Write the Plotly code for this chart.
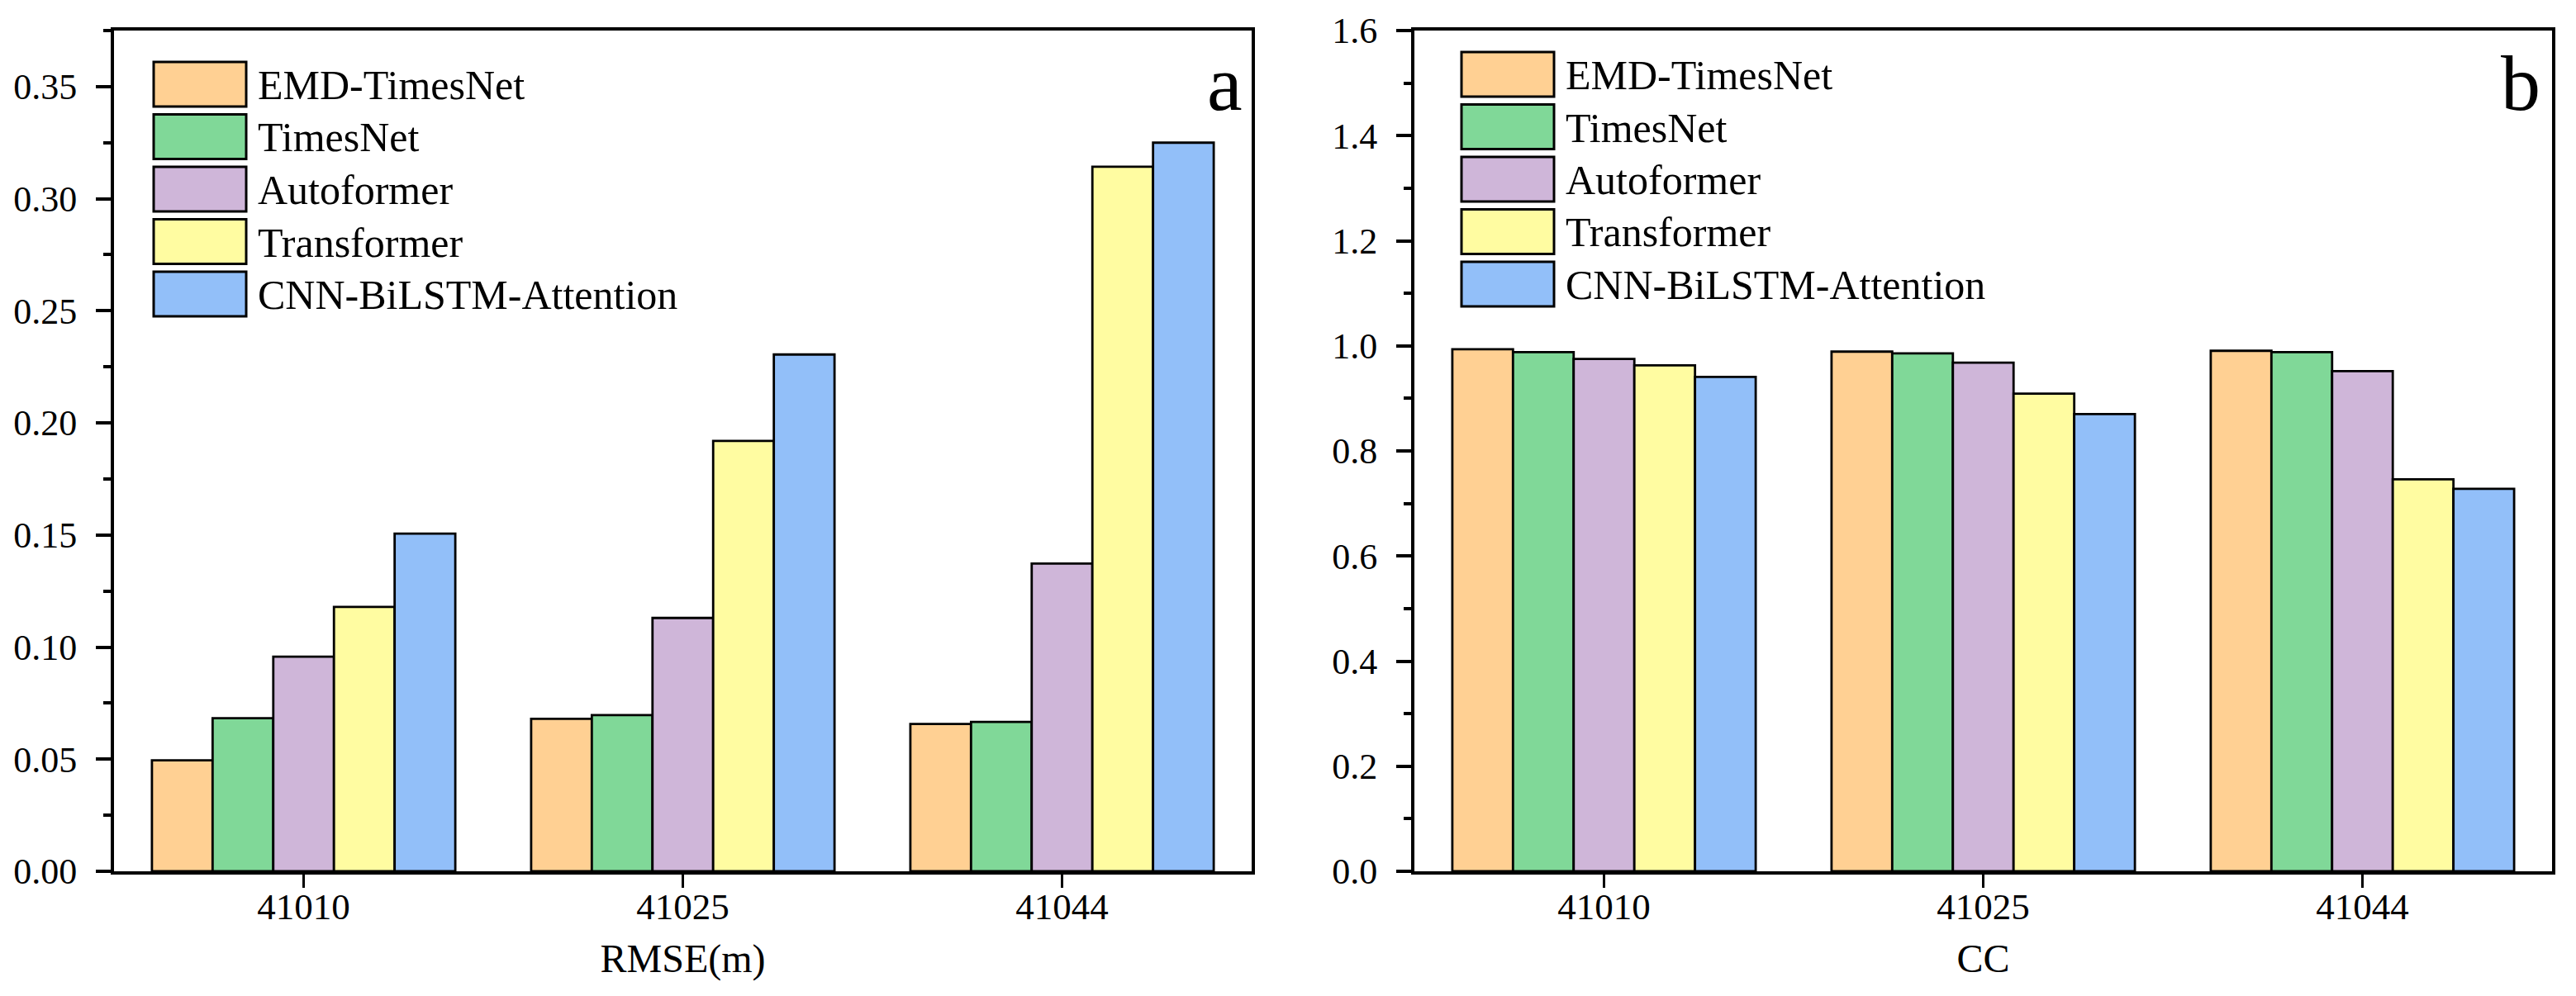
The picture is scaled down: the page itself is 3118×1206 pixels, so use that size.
import plotly.graph_objects as go

# page body has a default 8px margin; the figure is sized to fit inside the window
OFF = 8
W, H = 3118 - 2 * OFF, 1206 - 2 * OFF

stations = ["41010", "41025", "41044"]
models = ["EMD-TimesNet", "TimesNet", "Autoformer", "Transformer", "CNN-BiLSTM-Attention"]
colors = ["#FFD093", "#80D898", "#CFB6D9", "#FFFCA1", "#92BFF9"]

rmse_emd_timesnet = [0.0495, 0.0680, 0.0657]
rmse_timesnet = [0.0683, 0.0697, 0.0666]
rmse_autoformer = [0.0957, 0.1130, 0.1373]
rmse_transformer = [0.1179, 0.1920, 0.3143]
rmse_cnn_bilstm_att = [0.1506, 0.2305, 0.3250]

cc_emd_timesnet = [0.9934, 0.9890, 0.9906]
cc_timesnet = [0.9880, 0.9856, 0.9880]
cc_autoformer = [0.9750, 0.9680, 0.9520]
cc_transformer = [0.9630, 0.9090, 0.7460]
cc_cnn_bilstm_att = [0.9410, 0.8700, 0.7280]

rmse_series = [rmse_emd_timesnet, rmse_timesnet, rmse_autoformer, rmse_transformer, rmse_cnn_bilstm_att]
cc_series = [cc_emd_timesnet, cc_timesnet, cc_autoformer, cc_transformer, cc_cnn_bilstm_att]

FONT = "Liberation Serif"


def px(x):
    return (x - OFF) / W


def py(y):
    return 1 - (y - OFF) / H


fig = go.Figure()
for name, col, vals in zip(models, colors, rmse_series):
    fig.add_trace(go.Bar(x=stations, y=vals, name=name, marker=dict(color=col, line=dict(color="black", width=2.8)),
                         xaxis="x", yaxis="y", showlegend=False))
for name, col, vals in zip(models, colors, cc_series):
    fig.add_trace(go.Bar(x=stations, y=vals, name=name, marker=dict(color=col, line=dict(color="black", width=2.8)),
                         xaxis="x2", yaxis="y2", showlegend=False))

ydom = [py(1055), py(37)]
common_x = dict(showline=True, linecolor="black", linewidth=4, mirror=True, ticks="outside", ticklen=16,
                tickwidth=3, tickcolor="black", showgrid=False, zeroline=False, automargin=False,
                tickfont=dict(family=FONT, size=45, color="black"), ticklabelstandoff=-16)
common_y = dict(showline=True, linecolor="black", linewidth=4, mirror=True, ticks="outside", ticklen=18,
                tickwidth=4, tickcolor="black", showgrid=False, zeroline=False, automargin=False,
                tickfont=dict(family=FONT, size=44, color="black"), ticklabelstandoff=14)
title_font = dict(family=FONT, size=48, color="black")

fig.update_layout(
    width=W, height=H,
    margin=dict(l=0, r=0, t=0, b=0, autoexpand=False),
    font=dict(family=FONT, size=44, color="black"),
    paper_bgcolor="white", plot_bgcolor="white",
    barmode="group", bargap=0.2, bargroupgap=0,
    xaxis=dict(domain=[px(138), px(1515)], anchor="y",
               title=dict(text="RMSE(m)", font=title_font, standoff=22), **common_x),
    xaxis2=dict(domain=[px(1712), px(3089)], anchor="y2",
                title=dict(text="CC", font=title_font, standoff=22), **common_x),
    yaxis=dict(domain=ydom, anchor="x", range=[0, 0.375], dtick=0.05, tick0=0, tickformat=".2f",
               minor=dict(dtick=0.025, tick0=0, ticks="outside", ticklen=9, tickwidth=4, tickcolor="black"),
               **common_y),
    yaxis2=dict(domain=ydom, anchor="x2", range=[0, 1.6], dtick=0.2, tick0=0, tickformat=".1f",
                minor=dict(dtick=0.1, tick0=0, ticks="outside", ticklen=9, tickwidth=4, tickcolor="black"),
                **common_y),
)

shapes = []
annotations = []
legend_specs = [(186, 75), (1769, 63)]
for (lx, ly) in legend_specs:
    for i, (name, col) in enumerate(zip(models, colors)):
        top = ly + i * 63.5
        shapes.append(dict(type="rect", xref="paper", yref="paper",
                           x0=px(lx), x1=px(lx + 112), y0=py(top + 54), y1=py(top),
                           fillcolor=col, line=dict(color="black", width=3)))
        annotations.append(dict(xref="paper", yref="paper", x=px(lx + 124), y=py(top + 28),
                                xanchor="left", yanchor="middle", text=name, showarrow=False,
                                font=dict(family=FONT, size=50, color="black")))

annotations.append(dict(xref="paper", yref="paper", x=px(1506), y=py(156), xanchor="right", yanchor="bottom",
                        text="a", showarrow=False, font=dict(family=FONT, size=96, color="black")))
annotations.append(dict(xref="paper", yref="paper", x=px(3077), y=py(156), xanchor="right", yanchor="bottom",
                        text="b", showarrow=False, font=dict(family=FONT, size=96, color="black")))

fig.update_layout(shapes=shapes, annotations=annotations)

fig.write_html("out.html")
